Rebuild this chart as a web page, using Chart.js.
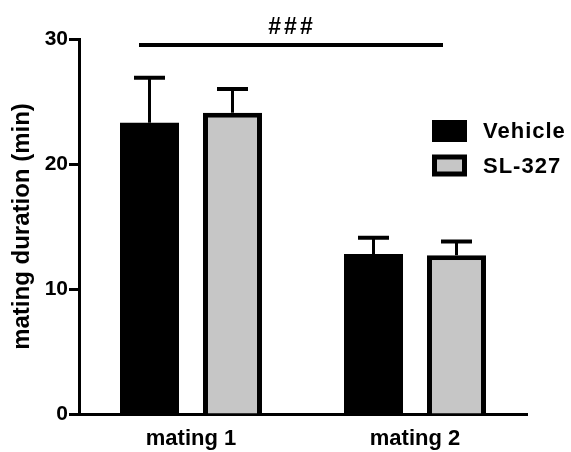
<!DOCTYPE html>
<html>
<head>
<meta charset="utf-8">
<script src="https://cdn.jsdelivr.net/npm/chart.js@4.4.1/dist/chart.umd.min.js"></script>
<style>
  html, body { margin: 0; padding: 0; background: #fff; }
  #wrap { width: 571px; height: 452px; position: relative; }
</style>
</head>
<body>
<div id="wrap"><canvas id="c"></canvas></div>
<script>
const categories = ['mating 1', 'mating 2'];
const seriesNames = ['Vehicle', 'SL-327'];
const vehicleMean = [23.3, 12.8];
const vehicleSem = [3.6, 1.3];
const sl327Mean = [24.1, 12.7];
const sl327Sem = [1.9, 1.1];
const yTicks = [0, 10, 20, 30];
const sigLabel = '###';

const FONT = '"Liberation Sans", Arial, sans-serif';
const GREY = '#c6c6c6';

const errorBars = {
  id: 'errorBars',
  afterDatasetsDraw(chart) {
    const ctx = chart.ctx;
    const y = chart.scales.y;
    chart.data.datasets.forEach((ds, di) => {
      const meta = chart.getDatasetMeta(di);
      meta.data.forEach((bar, i) => {
        const top = y.getPixelForValue(ds.data[i] + ds.sem[i]);
        const x = bar.x;
        ctx.save();
        ctx.strokeStyle = '#000';
        ctx.lineWidth = 3;
        ctx.beginPath();
        ctx.moveTo(x, bar.y);
        ctx.lineTo(x, top);
        ctx.stroke();
        ctx.lineWidth = 4;
        ctx.beginPath();
        ctx.moveTo(x - 15.5, top);
        ctx.lineTo(x + 15.5, top);
        ctx.stroke();
        ctx.restore();
      });
    });
  }
};

const extras = {
  id: 'extras',
  afterDraw(chart) {
    const ctx = chart.ctx;
    const xs = chart.scales.x;
    const x1 = xs.getPixelForValue(0) - 52;
    const x2 = xs.getPixelForValue(1) + 28;
    ctx.save();
    // significance line
    ctx.strokeStyle = '#000';
    ctx.lineWidth = 4;
    ctx.beginPath();
    ctx.moveTo(x1, 45);
    ctx.lineTo(x2, 45);
    ctx.stroke();
    ctx.fillStyle = '#000';
    ctx.font = 'bold 23px ' + FONT;
    ctx.textAlign = 'center';
    ctx.textBaseline = 'alphabetic';
    if ('letterSpacing' in ctx) ctx.letterSpacing = '3px';
    ctx.fillText(sigLabel, (x1 + x2) / 2 + 1, 34);
    if ('letterSpacing' in ctx) ctx.letterSpacing = '0px';
    // legend
    const lx = 432, bw = 35, bh = 22;
    const rows = [120, 154.5];
    chart.data.datasets.forEach((ds, i) => {
      const ty = rows[i];
      ctx.fillStyle = '#000';
      ctx.fillRect(lx, ty, bw, bh);
      if (ds.backgroundColor !== '#000') {
        ctx.fillStyle = ds.backgroundColor;
        ctx.fillRect(lx + 5, ty + 5, bw - 10, bh - 10);
      }
      ctx.fillStyle = '#000';
      ctx.font = 'bold 22px ' + FONT;
      ctx.textAlign = 'left';
      ctx.textBaseline = 'middle';
      if ('letterSpacing' in ctx) ctx.letterSpacing = '1px';
      ctx.fillText(ds.label, 483, ty + bh / 2 + 1);
    });
    ctx.restore();
  }
};

new Chart(document.getElementById('c'), {
  type: 'bar',
  data: {
    labels: categories,
    datasets: [
      { label: seriesNames[0], data: vehicleMean, sem: vehicleSem,
        backgroundColor: '#000', borderColor: '#000', borderWidth: 0 },
      { label: seriesNames[1], data: sl327Mean, sem: sl327Sem,
        backgroundColor: GREY, borderColor: '#000', borderWidth: 5, borderSkipped: 'bottom' }
    ]
  },
  options: {
    responsive: true,
    maintainAspectRatio: false,
    animation: false,
    devicePixelRatio: 1,
    categoryPercentage: 0.741,
    barPercentage: 0.711,
    layout: { padding: { left: 0, right: 44, top: 39, bottom: 0 } },
    plugins: { legend: { display: false }, tooltip: { enabled: false } },
    scales: {
      x: {
        grid: { display: false, drawTicks: false },
        border: { display: true, color: '#000', width: 3 },
        ticks: { color: '#000', font: { family: FONT, size: 22, weight: 'bold' }, padding: 12 },
        afterFit(s) { s.height = 38; }
      },
      y: {
        min: 0, max: 30,
        afterBuildTicks(s) { s.ticks = yTicks.map(v => ({ value: v })); },
        grid: { display: true, drawOnChartArea: false, drawTicks: true, tickLength: 10, tickWidth: 3, tickColor: '#000' },
        border: { display: true, color: '#000', width: 3 },
        ticks: { color: '#000', font: { family: FONT, size: 21, weight: 'bold' }, padding: 1 },
        title: { display: true, text: 'mating duration (min)', color: '#000',
                 font: { family: FONT, size: 24, weight: 'bold' }, padding: { top: 8, bottom: 0 } },
        afterFit(s) { s.width = 79; }
      }
    }
  },
  plugins: [errorBars, extras]
});
</script>
</body>
</html>
